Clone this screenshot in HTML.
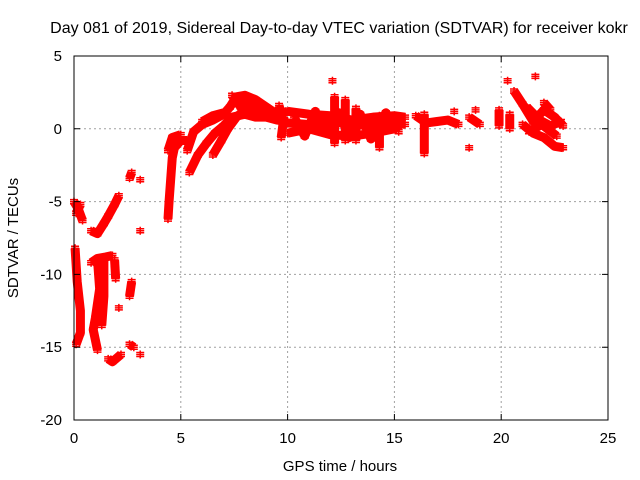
<!DOCTYPE html>
<html><head><meta charset="utf-8"><style>
body{margin:0;background:#fff;}
svg{display:block;font-family:"Liberation Sans",sans-serif;}
</style></head><body>
<svg id="chart" width="640" height="480" viewBox="0 0 640 480">
<rect width="640" height="480" fill="#fff"/>
<text x="339" y="33" font-size="16" text-anchor="middle" fill="#000">Day 081 of 2019, Sidereal Day-to-day VTEC variation (SDTVAR) for receiver kokr</text>
<g id="grid"></g>
<g id="marks"></g>
<rect x="74" y="56" width="534" height="364" fill="none" stroke="#000" stroke-width="1"/>
<g id="ticks"></g>
<text x="340" y="471" font-size="15" text-anchor="middle">GPS time / hours</text>
<text transform="translate(18,238) rotate(-90)" font-size="15" text-anchor="middle">SDTVAR / TECUs</text>
</svg>
<script>
const xTicks=[0,5,10,15,20,25];
const yTicks=[5,0,-5,-10,-15,-20];
const tracks=[
[[0.0,-5.0],[0.2,-5.5],[0.4,-6.3]],
[[0.1,-5.8],[0.3,-5.2]],
[[0.8,-7.0],[1.1,-7.2],[1.4,-6.5],[1.6,-6.0],[1.9,-5.2],[2.1,-4.6]],
[[2.6,-3.4],[2.7,-3.0]],
[[3.1,-3.5]],
[[3.1,-7.0]],
[[0.05,-8.2],[0.15,-10.5],[0.3,-12.5],[0.3,-14],[0.1,-14.8]],
[[0.8,-9.2],[1.1,-8.9],[1.5,-8.8],[1.8,-8.7]],
[[1.1,-9.0],[1.2,-11],[1.0,-13],[0.9,-13.8],[1.1,-15.2]],
[[1.4,-9.0],[1.4,-11.5],[1.3,-13.5]],
[[1.9,-9.0],[1.95,-10.3]],
[[2.7,-10.5],[2.6,-11.5]],
[[2.1,-12.3]],
[[1.6,-15.8],[1.8,-16],[2.2,-15.5]],
[[2.6,-14.8],[2.8,-15]],
[[3.1,-15.5]],
[[4.4,-6.2],[4.45,-5],[4.5,-4],[4.55,-3],[4.6,-2],[4.7,-1.3],[5.0,-0.8],[5.3,-0.8]],
[[4.4,-1.5],[4.6,-0.6],[5.0,-0.4]],
[[5.3,-1.5],[5.6,-0.2],[6.0,0.3],[6.5,0.6],[7.0,1.0],[7.3,1.5],[7.6,2.2],[8,2.3],[8.5,2.0],[9,1.5],[9.5,1.0],[10,1.2]],
[[5.4,-3.0],[5.8,-1.8],[6.2,-1.0],[6.6,-0.3],[7.0,0.2],[7.4,0.8],[8,1.0],[8.5,0.8],[9,0.8],[9.5,0.6],[10,0.5]],
[[6.5,-1.8],[6.9,-0.8],[7.2,0],[7.6,0.8],[8,1.3]],
[[6.0,0.5],[6.5,0.9],[7.0,1.1]],
[[7.4,2.3],[7.8,1.5],[8.3,1.0],[9,1.0]],
[[7.6,1.8],[8.2,1.6],[8.8,1.2]],
[[9.6,1.6],[9.8,0.5],[9.7,-0.6]],
[[10,1.2],[11,1.0],[12,0.9],[13,0.6],[14,0.8],[15,0.9],[15.5,0.8]],
[[10,0.4],[11,0.3],[12,0.5],[13,0.3],[14,0.2],[15,0.4],[15.5,0.3]],
[[10,-0.3],[11,0.0],[12,-0.4],[13,-0.5],[14,-0.3],[15,0]],
[[10.3,0.8],[10.8,-0.5],[11.3,1.2],[11.8,-0.3],[12.4,1.1],[12.9,-0.6],[13.4,1.0],[13.9,-0.7],[14.6,1.1],[15.2,-0.2]],
[[12.2,-1.0],[12.2,1.0],[12.2,2.2]],
[[12.1,3.3]],
[[12.7,-0.8],[12.7,2.0]],
[[13.2,-0.8],[13.2,1.4]],
[[14.3,-1.3],[14.3,0.9]],
[[16.4,-1.7],[16.4,-0.5],[16.4,1.0]],
[[16,0.9],[16.5,0.4],[17,0.5],[17.5,0.6],[18,0.3]],
[[18.5,0.8],[19,0.3]],
[[18.5,-1.3]],
[[17.8,1.2]],
[[18.8,1.3]],
[[19.9,1.3],[19.9,0.2]],
[[20.6,2.6],[21,1.7],[21.5,0.5],[22,1.3],[22.5,0.8],[22.9,0.2]],
[[21,0.3],[21.5,-0.3],[22,-0.6],[22.5,-1.2],[22.9,-1.3]],
[[21.2,1.5],[21.8,0.6],[22.3,0.2],[22.8,0.5]],
[[21.3,-0.2],[21.9,0.3],[22.6,-0.5]],
[[21.6,3.6]],
[[20.3,3.3]],
[[22,1.8],[22.3,1.3]],
[[20.4,1.0],[20.4,0.0]]
];
const NS="http://www.w3.org/2000/svg";
const X0=74,X1=608,Y0=420,Y1=56;
function sx(t){return X0+(t-0)/(25-0)*(X1-X0);}
function sy(v){return Y0-(v+20)/(5+20)*(Y0-Y1);}
const grid=document.getElementById('grid'),ticks=document.getElementById('ticks'),marks=document.getElementById('marks');
xTicks.forEach(t=>{
  const x=sx(t);
  if(t>0&&t<25){const l=document.createElementNS(NS,'line');
  
  
  l.setAttribute('x1',x);l.setAttribute('x2',x);l.setAttribute('y1',Y1);l.setAttribute('y2',Y0);
  l.setAttribute('stroke','#a0a0a0');l.setAttribute('stroke-dasharray','2,3');grid.appendChild(l);}
  const tk=document.createElementNS(NS,'path');
  
  
  tk.setAttribute('d',`M${x},${Y0}v-6M${x},${Y1}v6`);tk.setAttribute('stroke','#000');ticks.appendChild(tk);
  const tx=document.createElementNS(NS,'text');
  
  
  tx.setAttribute('x',x);tx.setAttribute('y',443);tx.setAttribute('font-size','15');tx.setAttribute('text-anchor','middle');
  tx.textContent=t;ticks.appendChild(tx);
});
yTicks.forEach(v=>{
  const y=sy(v);
  if(v<5&&v>-20){const l=document.createElementNS(NS,'line');
  
  
  l.setAttribute('x1',X0);l.setAttribute('x2',X1);l.setAttribute('y1',y);l.setAttribute('y2',y);
  l.setAttribute('stroke','#a0a0a0');l.setAttribute('stroke-dasharray','2,3');grid.appendChild(l);}
  const tk=document.createElementNS(NS,'path');
  
  
  tk.setAttribute('d',`M${X0},${y}h6M${X1},${y}h-6`);tk.setAttribute('stroke','#000');ticks.appendChild(tk);
  const tx=document.createElementNS(NS,'text');
  
  
  tx.setAttribute('x',62);tx.setAttribute('y',y+5);tx.setAttribute('font-size','15');tx.setAttribute('text-anchor','end');
  tx.textContent=v;ticks.appendChild(tx);
});
tracks.forEach(tr=>{
  if(tr.length>1){
    const p=document.createElementNS(NS,'polyline');
    
    
    p.setAttribute('points',tr.map(d=>sx(d[0])+','+sy(d[1])).join(' '));
    p.setAttribute('fill','none');p.setAttribute('stroke','#ff0000');p.setAttribute('stroke-width','9');
    p.setAttribute('stroke-linejoin','round');marks.appendChild(p);
  }
  tr.forEach(d=>{
    const m=document.createElementNS(NS,'path');
    
    
    const x=sx(d[0]),y=sy(d[1]);
    m.setAttribute('d',`M${x-4},${y}h8M${x},${y-4}v8M${x-4},${y-2}h8M${x-4},${y+2}h8`);
    m.setAttribute('stroke','#ff0000');m.setAttribute('stroke-width','1.5');marks.appendChild(m);
  });
});
</script>
</body></html>
